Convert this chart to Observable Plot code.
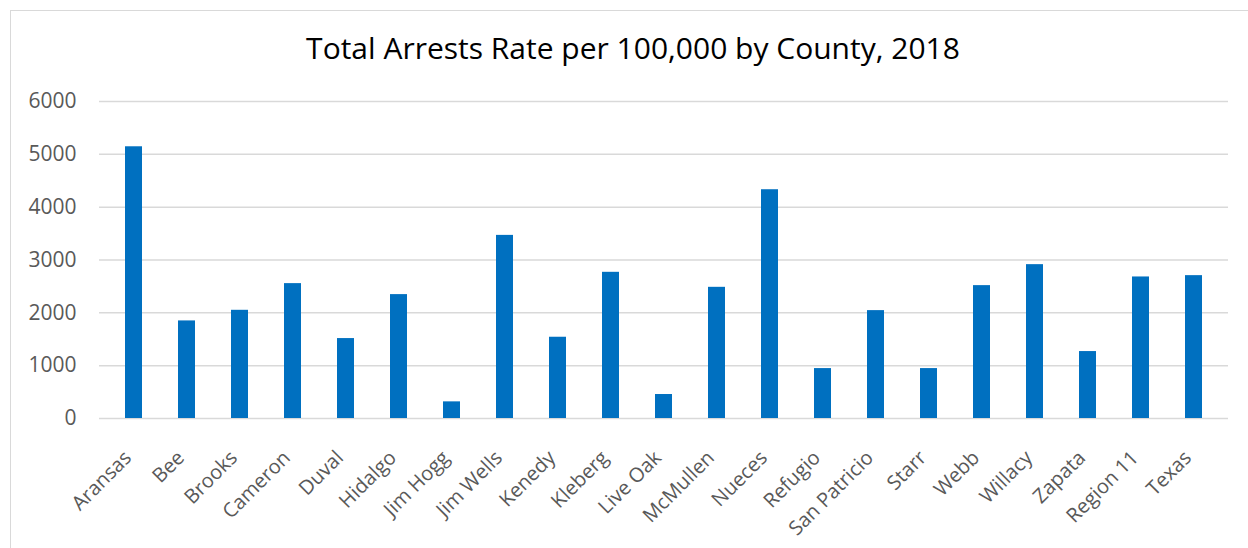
<!DOCTYPE html>
<html>
<head>
<meta charset="utf-8">
<script src="https://cdn.jsdelivr.net/npm/d3@7"></script>
<script src="https://cdn.jsdelivr.net/npm/@observablehq/plot@0.6"></script>
<style>
  html, body { margin: 0; padding: 0; background: #fff; }
  body { width: 1248px; height: 548px; overflow: hidden; position: relative; font-family: "Open Sans", "Noto Sans", sans-serif; }
  #frame { position: absolute; left: 10px; top: 10px; width: 1300px; height: 600px; border: 1.5px solid #d9d9d9; box-sizing: border-box; }
  #title { position: absolute; left: 9px; top: 27px; width: 1248px; text-align: center; font-size: 30px; line-height: 42px; color: #000; }
  #chart { position: absolute; left: 0; top: 80px; }
</style>
</head>
<body>
<div id="frame"></div>
<div id="title">Total Arrests Rate per 100,000 by County, 2018</div>
<div id="chart"></div>
<script>
const counties = ["Aransas","Bee","Brooks","Cameron","Duval","Hidalgo","Jim Hogg","Jim Wells","Kenedy","Kleberg","Live Oak","McMullen","Nueces","Refugio","San Patricio","Starr","Webb","Willacy","Zapata","Region 11","Texas"];
const rates = [5143,1847,2048,2553,1513,2345,315,3466,1538,2767,454,2483,4330,945,2042,945,2515,2912,1267,2679,2704];
const yTicks = [0,1000,2000,3000,4000,5000,6000];

const data = counties.map((c, i) => ({county: c, rate: rates[i]}));

const chart = Plot.plot({
  width: 1248,
  height: 468,
  marginTop: 21,
  marginBottom: 130,
  marginLeft: 99,
  marginRight: 20,
  style: {fontFamily: '"Open Sans", "Noto Sans", sans-serif', fontSize: "20px", color: "#595959", background: "transparent"},
  x: {domain: counties, paddingInner: 0.68, paddingOuter: 0.34, align: 0.5, label: null},
  y: {domain: [0, 6000], label: null},
  marks: [
    Plot.gridY(yTicks, {stroke: "#d9d9d9", strokeOpacity: 1, strokeWidth: 1.5}),
    Plot.barY(data, {x: "county", y: "rate", fill: "#0070C0"}),
    Plot.axisY({ticks: yTicks, tickSize: 0, tickPadding: 23, tickFormat: d => String(d), fill: "#595959", fontSize: 21}),
    Plot.axisX({tickSize: 0, tickPadding: 36, tickRotate: -45, fill: "#595959", fontSize: 20, dx: -6})
  ]
});
document.getElementById("chart").appendChild(chart);
</script>
</body>
</html>
